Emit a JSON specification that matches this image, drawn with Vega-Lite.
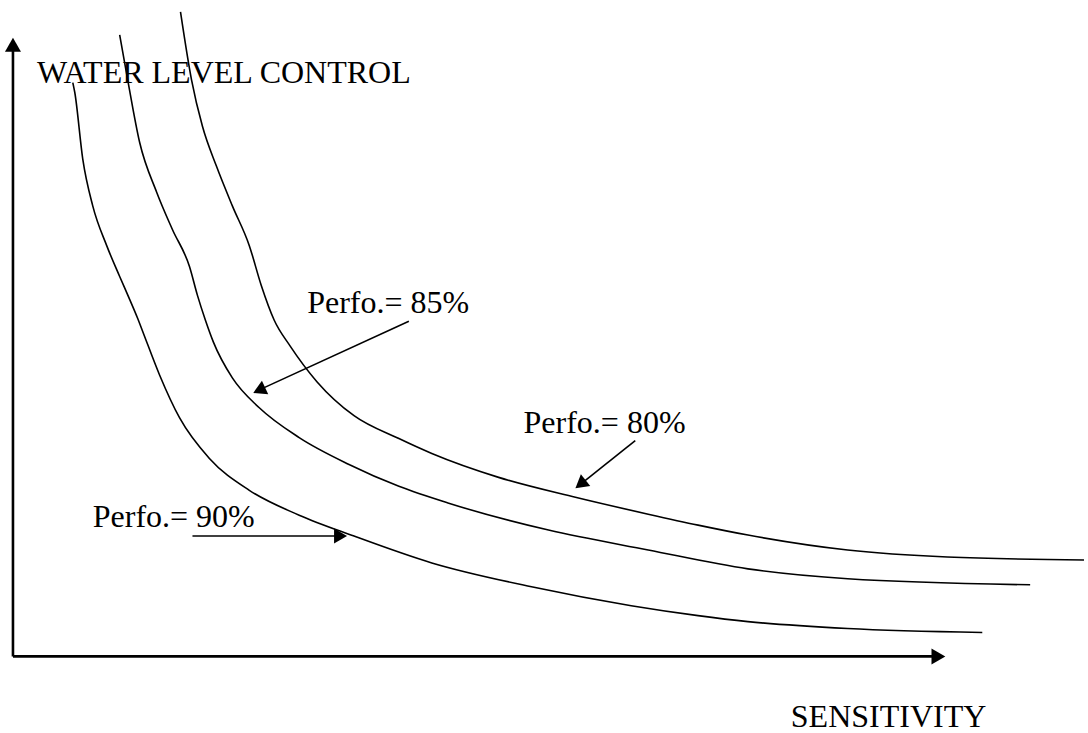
{
  "$schema": "https://vega.github.io/schema/vega-lite/v6.json",
  "width": 1088,
  "height": 733,
  "autosize": {"type": "fit", "contains": "padding"},
  "padding": 0,
  "background": "white",
  "config": {"view": {"stroke": null}},
  "datasets": {
    "curves": [
      {"series": "90", "i": 0, "x": 73, "y": 83},
      {"series": "90", "i": 1, "x": 75, "y": 93},
      {"series": "90", "i": 2, "x": 83, "y": 160},
      {"series": "90", "i": 3, "x": 93, "y": 207},
      {"series": "90", "i": 4, "x": 107, "y": 247},
      {"series": "90", "i": 5, "x": 120, "y": 278},
      {"series": "90", "i": 6, "x": 130, "y": 301},
      {"series": "90", "i": 7, "x": 138, "y": 320},
      {"series": "90", "i": 8, "x": 143, "y": 333},
      {"series": "90", "i": 9, "x": 160, "y": 377},
      {"series": "90", "i": 10, "x": 180, "y": 420},
      {"series": "90", "i": 11, "x": 210, "y": 461},
      {"series": "90", "i": 12, "x": 250, "y": 493},
      {"series": "90", "i": 13, "x": 300, "y": 518},
      {"series": "90", "i": 14, "x": 355, "y": 539},
      {"series": "90", "i": 15, "x": 433, "y": 566},
      {"series": "90", "i": 16, "x": 533, "y": 590},
      {"series": "90", "i": 17, "x": 633, "y": 609},
      {"series": "90", "i": 18, "x": 700, "y": 619},
      {"series": "90", "i": 19, "x": 750, "y": 625},
      {"series": "90", "i": 20, "x": 850, "y": 632},
      {"series": "90", "i": 21, "x": 985, "y": 636},
      {"series": "85", "i": 0, "x": 120, "y": 35},
      {"series": "85", "i": 1, "x": 128, "y": 80},
      {"series": "85", "i": 2, "x": 140, "y": 143},
      {"series": "85", "i": 3, "x": 157, "y": 193},
      {"series": "85", "i": 4, "x": 173, "y": 231},
      {"series": "85", "i": 5, "x": 190, "y": 268},
      {"series": "85", "i": 6, "x": 198, "y": 297},
      {"series": "85", "i": 7, "x": 206, "y": 322},
      {"series": "85", "i": 8, "x": 214, "y": 344},
      {"series": "85", "i": 9, "x": 233, "y": 380},
      {"series": "85", "i": 10, "x": 260, "y": 410},
      {"series": "85", "i": 11, "x": 300, "y": 440},
      {"series": "85", "i": 12, "x": 350, "y": 467},
      {"series": "85", "i": 13, "x": 400, "y": 489},
      {"series": "85", "i": 14, "x": 450, "y": 506},
      {"series": "85", "i": 15, "x": 550, "y": 533},
      {"series": "85", "i": 16, "x": 650, "y": 553},
      {"series": "85", "i": 17, "x": 750, "y": 572},
      {"series": "85", "i": 18, "x": 850, "y": 582},
      {"series": "85", "i": 19, "x": 1033, "y": 588},
      {"series": "80", "i": 0, "x": 181, "y": 12},
      {"series": "80", "i": 1, "x": 192, "y": 80},
      {"series": "80", "i": 2, "x": 203, "y": 127},
      {"series": "80", "i": 3, "x": 217, "y": 167},
      {"series": "80", "i": 4, "x": 233, "y": 207},
      {"series": "80", "i": 5, "x": 250, "y": 247},
      {"series": "80", "i": 6, "x": 262, "y": 287},
      {"series": "80", "i": 7, "x": 275, "y": 322},
      {"series": "80", "i": 8, "x": 291, "y": 348},
      {"series": "80", "i": 9, "x": 318, "y": 384},
      {"series": "80", "i": 10, "x": 355, "y": 418},
      {"series": "80", "i": 11, "x": 400, "y": 441},
      {"series": "80", "i": 12, "x": 433, "y": 456},
      {"series": "80", "i": 13, "x": 500, "y": 480},
      {"series": "80", "i": 14, "x": 577, "y": 500},
      {"series": "80", "i": 15, "x": 650, "y": 517},
      {"series": "80", "i": 16, "x": 700, "y": 528},
      {"series": "80", "i": 17, "x": 750, "y": 538},
      {"series": "80", "i": 18, "x": 850, "y": 553},
      {"series": "80", "i": 19, "x": 950, "y": 560},
      {"series": "80", "i": 20, "x": 1087, "y": 563}
    ],
    "axes": [
      {"x": 13, "y": 660, "x2": 13, "y2": 48},
      {"x": 13, "y": 660, "x2": 936, "y2": 660}
    ],
    "pointers": [
      {"x": 410, "y": 323, "x2": 260, "y2": 392},
      {"x": 637, "y": 443, "x2": 582, "y2": 487},
      {"x": 193, "y": 539, "x2": 342, "y2": 539}
    ],
    "heads": [
      {"name": "yaxis", "x": 13, "y": 45},
      {"name": "xaxis", "x": 941, "y": 660},
      {"name": "p85", "x": 259.9, "y": 392.3},
      {"name": "p80", "x": 582.1, "y": 486.9},
      {"name": "p90", "x": 341.5, "y": 539}
    ],
    "labels": [
      {"text": "WATER LEVEL CONTROL", "x": 37, "y": 83},
      {"text": "Perfo.= 85%", "x": 308, "y": 315},
      {"text": "Perfo.= 80%", "x": 525, "y": 435},
      {"text": "Perfo.= 90%", "x": 93, "y": 530},
      {"text": "SENSITIVITY", "x": 793, "y": 731}
    ]
  },
  "encoding": {
    "x": {"field": "x", "type": "quantitative", "scale": {"domain": [0, 1088], "nice": false, "zero": false}, "axis": null},
    "y": {"field": "y", "type": "quantitative", "scale": {"domain": [0, 733], "nice": false, "zero": false, "reverse": true}, "axis": null}
  },
  "layer": [
    {
      "data": {"name": "curves"},
      "mark": {"type": "line", "color": "black", "strokeWidth": 1.6, "interpolate": "monotone"},
      "encoding": {
        "detail": {"field": "series", "type": "nominal"},
        "order": {"field": "i", "type": "quantitative"}
      }
    },
    {
      "data": {"name": "axes"},
      "mark": {"type": "rule", "color": "black", "strokeWidth": 2.6},
      "encoding": {"x2": {"field": "x2"}, "y2": {"field": "y2"}}
    },
    {
      "data": {"name": "pointers"},
      "mark": {"type": "rule", "color": "black", "strokeWidth": 1.6},
      "encoding": {"x2": {"field": "x2"}, "y2": {"field": "y2"}}
    },
    {
      "data": {"name": "heads"},
      "transform": [{"filter": "datum.name === 'yaxis'"}],
      "mark": {"type": "point", "shape": "triangle-up", "filled": true, "color": "black", "opacity": 1, "size": 256, "strokeWidth": 0, "angle": 0}
    },
    {
      "data": {"name": "heads"},
      "transform": [{"filter": "datum.name === 'xaxis'"}],
      "mark": {"type": "point", "shape": "triangle-up", "filled": true, "color": "black", "opacity": 1, "size": 256, "strokeWidth": 0, "angle": 90}
    },
    {
      "data": {"name": "heads"},
      "transform": [{"filter": "datum.name === 'p90'"}],
      "mark": {"type": "point", "shape": "triangle-up", "filled": true, "color": "black", "opacity": 1, "size": 225, "strokeWidth": 0, "angle": 90}
    },
    {
      "data": {"name": "heads"},
      "transform": [{"filter": "datum.name === 'p85'"}],
      "mark": {"type": "point", "shape": "triangle-up", "filled": true, "color": "black", "opacity": 1, "size": 225, "strokeWidth": 0, "angle": 245.2}
    },
    {
      "data": {"name": "heads"},
      "transform": [{"filter": "datum.name === 'p80'"}],
      "mark": {"type": "point", "shape": "triangle-up", "filled": true, "color": "black", "opacity": 1, "size": 225, "strokeWidth": 0, "angle": 231.3}
    },
    {
      "data": {"name": "labels"},
      "mark": {"type": "text", "align": "left", "baseline": "alphabetic", "font": "Liberation Serif", "fontSize": 32, "color": "black"},
      "encoding": {"text": {"field": "text", "type": "nominal"}}
    }
  ]
}
